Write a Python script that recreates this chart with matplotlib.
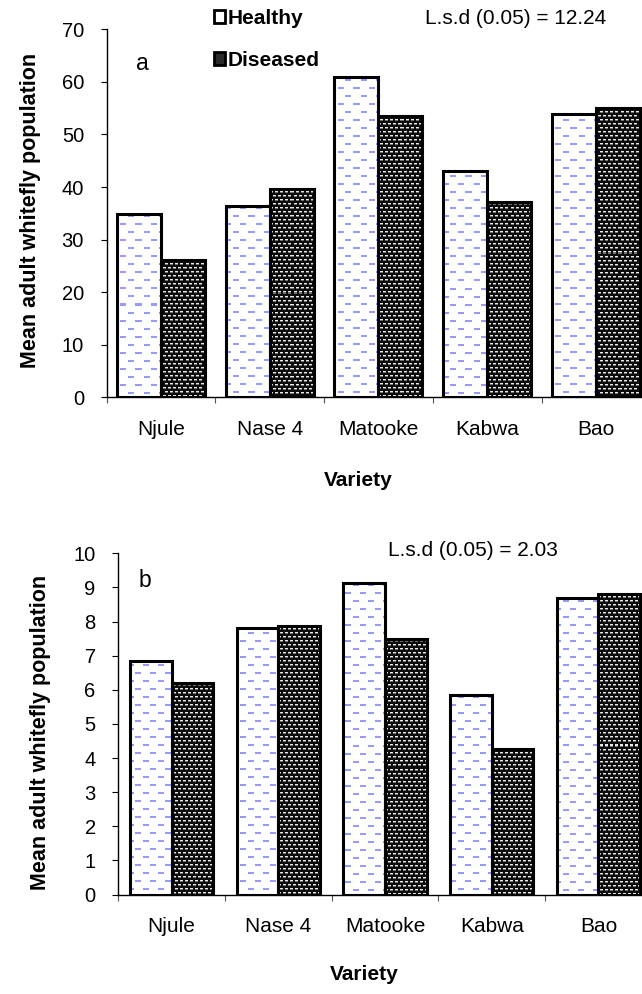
import numpy as np
import matplotlib
matplotlib.use("Agg")
import matplotlib.pyplot as plt
from matplotlib.patches import Patch

plt.rcParams['font.family'] = ['Liberation Sans', 'DejaVu Sans']

varieties = ['Njule', 'Nase 4', 'Matooke', 'Kabwa', 'Bao']
healthy_a = [34.8, 36.5, 61.0, 43.0, 53.9]
diseased_a = [26.2, 39.6, 53.6, 37.2, 55.0]
healthy_b = [6.85, 7.82, 9.12, 5.85, 8.68]
diseased_b = [6.2, 7.88, 7.48, 4.27, 8.8]

lsd_a = 'L.s.d (0.05) = 12.24'
lsd_b = 'L.s.d (0.05) = 2.03'

W, H = 642, 994
fig = plt.figure(figsize=(W / 100, H / 100), dpi=100)


def texture(kind, w, h, x0, y0):
    yy, xx = np.mgrid[0:h, 0:w]
    X = xx + x0
    Y = yy + y0
    if kind == 'healthy':
        img = np.ones((h, w, 3))
        r = Y // 8
        off = (r % 2) * 7
        on = ((Y % 8) < 2) & (((X + off) % 15) < 6)
        img[on] = (0.6, 0.6, 1.0)
    else:
        img = np.full((h, w, 3), 0.05)
        r = Y // 4
        off = (r % 2) * 2
        xm = (X + off) % 5
        dot = ((Y % 4) == 0) & (xm < 3)
        halo = ((Y % 4) == 1) & (xm < 3)
        img[halo] = (0.45, 0.45, 0.45)
        img[dot] = (0.92, 0.92, 0.92)
    return img


def panel(rect, healthy, diseased, ymax, step, width):
    ax = fig.add_axes(rect)
    x = np.arange(len(varieties)) + 0.5
    bh = ax.bar(x - width / 2, healthy, width, facecolor='none',
                edgecolor='black', linewidth=2.2, zorder=3)
    bd = ax.bar(x + width / 2, diseased, width, facecolor='none',
                edgecolor='black', linewidth=2.2, zorder=3)
    ax.set_xlim(0, len(varieties))
    ax.set_ylim(0, ymax)
    fig.canvas.draw()
    for bars, kind in ((bh, 'healthy'), (bd, 'diseased')):
        for p in bars.patches:
            x0, x1 = p.get_x(), p.get_x() + p.get_width()
            (px0, py0), (px1, py1) = ax.transData.transform([(x0, 0), (x1, p.get_height())])
            w = int(round(px1 - px0))
            h = int(round(py1 - py0))
            img = texture(kind, w, h, int(round(px0)), int(round(H - py1)))
            ax.imshow(img, extent=(x0, x1, 0, p.get_height()), origin='upper',
                      interpolation='nearest', aspect='auto', zorder=2)
    ax.set_xlim(0, len(varieties))
    ax.set_ylim(0, ymax)
    ax.set_yticks(np.arange(0, ymax + step, step))
    ax.set_xticks(x)
    ax.set_xticklabels(varieties)
    ax.set_xticks(np.arange(len(varieties) + 1), minor=True)
    ax.tick_params(axis='x', which='major', length=0, pad=16.5, labelsize=15)
    ax.tick_params(axis='x', which='minor', length=4, width=0.8, color='#555555')
    ax.tick_params(axis='y', length=4.3, width=0.8, pad=12, labelsize=14.5)
    for s in ('top', 'right'):
        ax.spines[s].set_visible(False)
    ax.spines['left'].set_linewidth(1)
    ax.spines['bottom'].set_linewidth(1)
    return ax, bh, bd


ax1, bh1, bd1 = panel([106.7 / W, 1 - 397.5 / H, 543.5 / W, 368.2 / H],
                      healthy_a, diseased_a, 70, 10, 0.405)
ax2, bh2, bd2 = panel([118.3 / W, 1 - 894.5 / H, 533.5 / W, 341.2 / H],
                      healthy_b, diseased_b, 10, 1, 0.39)

ax1.text(0.066, 0.908, 'a', transform=ax1.transAxes, fontsize=16.5, ha='center', va='center')
ax2.text(0.05, 0.919, 'b', transform=ax2.transAxes, fontsize=16.5, ha='center', va='center')

fig.text(515.5 / W, 1 - 18 / H, lsd_a, fontsize=15, ha='center', va='center')
fig.text(473 / W, 1 - 551 / H, lsd_b, fontsize=15, ha='center', va='center')

fig.text(358.5 / W, 1 - 481 / H, 'Variety', fontsize=15, fontweight='bold', ha='center', va='center')
fig.text(364 / W, 1 - 975 / H, 'Variety', fontsize=15, fontweight='bold', ha='center', va='center')

fig.text(31 / W, 1 - 210 / H, 'Mean adult whitefly population', fontsize=15.5,
         fontweight='bold', rotation=90, ha='center', va='center')
fig.text(41 / W, 1 - 732 / H, 'Mean adult whitefly population', fontsize=15.5,
         fontweight='bold', rotation=90, ha='center', va='center')

handles = [Patch(facecolor='white', edgecolor='black', linewidth=2),
           Patch(facecolor='#2a2a2a', edgecolor='black', linewidth=2)]
fig.legend(handles, ['Healthy', 'Diseased'], loc='upper left',
           bbox_to_anchor=(214 / W, 1 - 9 / H), frameon=False,
           prop={'size': 15, 'weight': 'bold'}, handlelength=0.55, handleheight=0.55,
           handletextpad=0.12, labelspacing=1.1, borderpad=0, borderaxespad=0)

fig.savefig('out.png', dpi=100)
